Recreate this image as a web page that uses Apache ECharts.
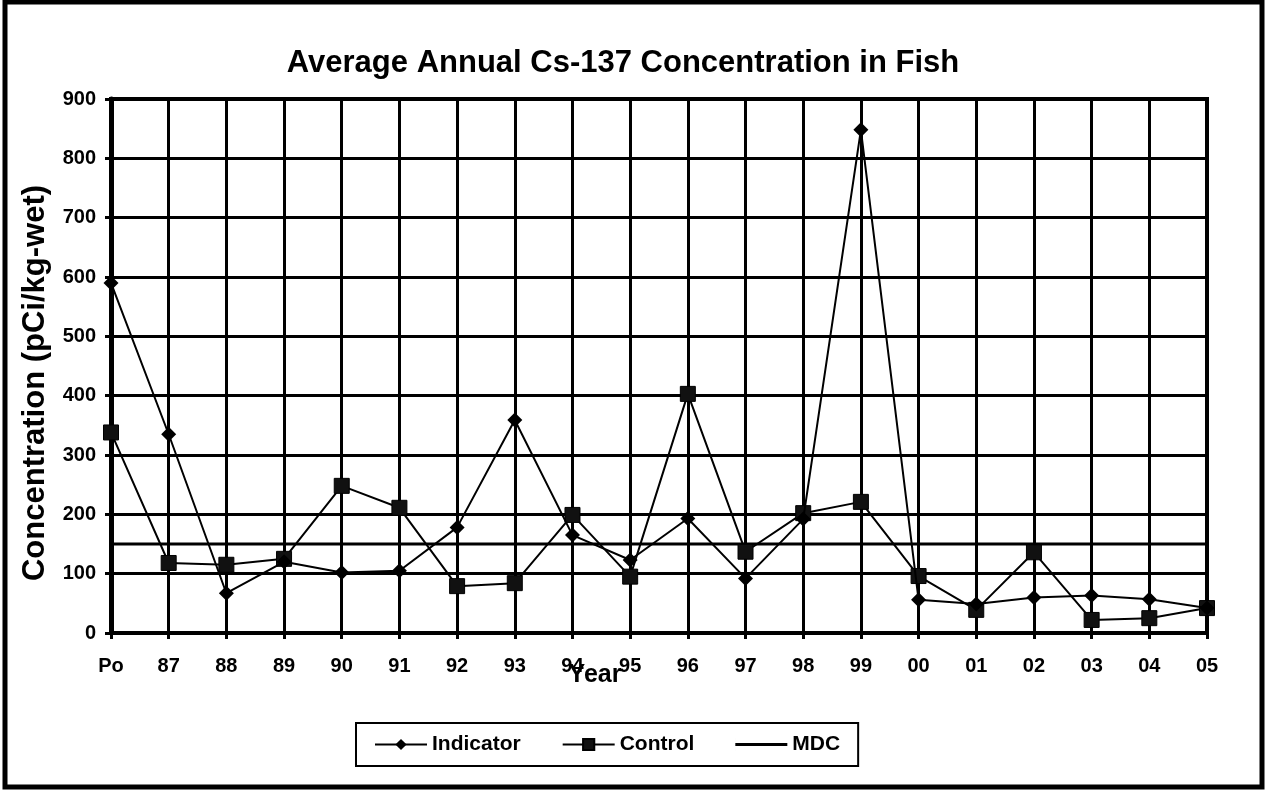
<!DOCTYPE html>
<html>
<head>
<meta charset="utf-8">
<title>Average Annual Cs-137 Concentration in Fish</title>
<script src="https://cdn.jsdelivr.net/npm/echarts@6/dist/echarts.min.js"></script>
<style>
  html, body { margin: 0; padding: 0; background: #fff; }
  #chart { width: 1267px; height: 793px; }
</style>
</head>
<body>
<div id="chart"></div>
<script>
// years on the x axis
const years = ['Po', '87', '88', '89', '90', '91', '92', '93', '94', '95', '96', '97', '98', '99', '00', '01', '02', '03', '04', '05']
// pCi/kg-wet
const indicator = [590, 335, 67, 120, 102, 105, 178, 359, 165, 123, 193, 92, 192, 848, 56, 49, 60, 63, 57, 42]
const control = [338, 118, 115, 125, 248, 211, 79, 84, 199, 95, 403, 137, 202, 221, 96, 39, 136, 22, 25, 42]
const mdc = [150, 150, 150, 150, 150, 150, 150, 150, 150, 150, 150, 150, 150, 150, 150, 150, 150, 150, 150, 150]

const font = 'Liberation Sans, Arial, sans-serif'
// plain line icon for the MDC legend entry (thin sliver on the left keeps full icon height)
const plainLine = 'path://M0,5.5H52V8.5H0Z M0,0H0.01V14H0Z'

const chart = echarts.init(document.getElementById('chart'))

chart.setOption({
  animation: false,
  backgroundColor: '#fff',
  textStyle: { fontFamily: font, color: '#000' },
  title: {
    text: 'Average Annual Cs-137 Concentration in Fish',
    left: 618,
    textAlign: 'center',
    top: 43,
    textStyle: { fontSize: 31, fontWeight: 'bold', color: '#000', fontFamily: font }
  },
  // outer frame of the picture
  graphic: [{
    type: 'rect',
    shape: { x: 5, y: 2, width: 1257, height: 785 },
    style: { fill: 'none', stroke: '#000', lineWidth: 5 },
    z: 100
  }],
  grid: {
    left: 111,
    right: 60,
    top: 99,
    bottom: 160,
    show: true,
    borderColor: '#000',
    borderWidth: 4
  },
  legend: {
    left: 356,
    top: 723,
    padding: [11, 18, 11, 18],
    borderColor: '#000',
    borderWidth: 2,
    itemGap: 41,
    itemWidth: 52,
    itemHeight: 14,
    symbolKeepAspect: false,
    textStyle: { fontSize: 21, fontWeight: 'bold', color: '#000', fontFamily: font },
    data: ['Indicator', 'Control', { name: 'MDC', icon: plainLine }]
  },
  xAxis: {
    type: 'category',
    data: years,
    boundaryGap: false,
    name: 'Year',
    nameLocation: 'middle',
    nameGap: 30,
    nameMoveOverlap: false,
    nameTextStyle: { fontSize: 25, fontWeight: 'bold', color: '#000', padding: [0, 128, 0, 0] },
    axisLine: { lineStyle: { color: '#000', width: 4 } },
    axisTick: { show: true, length: 6, interval: 0, lineStyle: { color: '#000', width: 3 } },
    axisLabel: { fontSize: 20, fontWeight: 'bold', color: '#000', margin: 23, interval: 0 },
    splitLine: { show: true, interval: 0, lineStyle: { color: '#000', width: 3 } }
  },
  yAxis: {
    type: 'value',
    min: 0,
    max: 900,
    interval: 100,
    name: 'Concentration (pCi/kg-wet)',
    nameLocation: 'middle',
    nameGap: 60,
    nameTextStyle: { fontSize: 31, fontWeight: 'bold', color: '#000', padding: [0, 34, 0, 0] },
    axisLine: { show: true, lineStyle: { color: '#000', width: 5 } },
    axisTick: { show: true, length: 6, lineStyle: { color: '#000', width: 3 } },
    axisLabel: { fontSize: 20, fontWeight: 'bold', color: '#000', margin: 15 },
    splitLine: { show: true, lineStyle: { color: '#000', width: 3 } }
  },
  series: [
    {
      name: 'Indicator',
      type: 'line',
      data: indicator,
      symbol: 'diamond',
      symbolSize: 15,
      itemStyle: { color: '#000' },
      lineStyle: { color: '#000', width: 2 },
      z: 4
    },
    {
      name: 'Control',
      type: 'line',
      data: control,
      symbol: 'rect',
      symbolSize: 15,
      itemStyle: { color: '#111', borderColor: '#000', borderWidth: 1 },
      lineStyle: { color: '#000', width: 2 },
      z: 3
    },
    {
      name: 'MDC',
      type: 'line',
      data: mdc,
      symbol: 'none',
      itemStyle: { color: '#000' },
      lineStyle: { color: '#000', width: 3 },
      z: 2
    }
  ]
})
</script>
</body>
</html>
